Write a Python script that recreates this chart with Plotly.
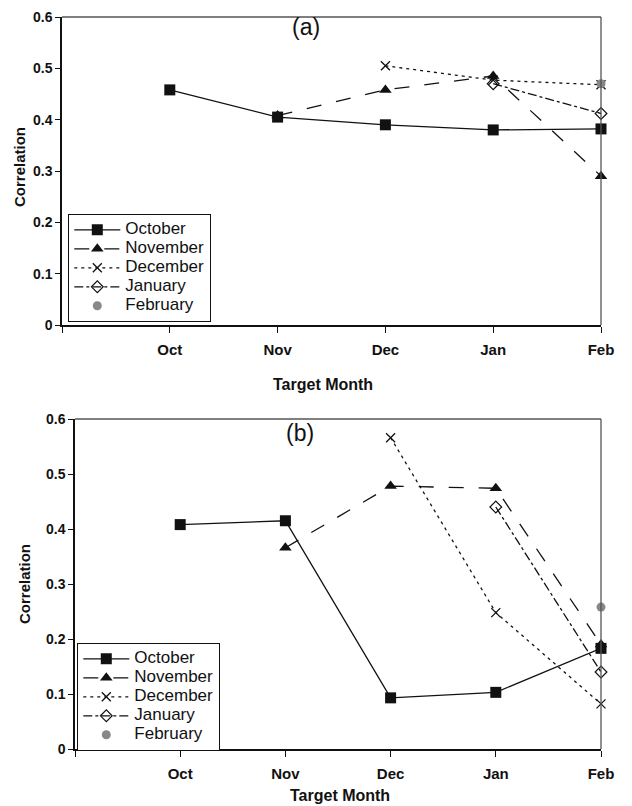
import plotly.graph_objects as go

months = ["Oct", "Nov", "Dec", "Jan", "Feb"]
x_idx = [0, 1, 2, 3, 4]
series_names = ["October", "November", "December", "January", "February"]

# Panel (a) values (None = no forecast)
a_october = [0.458, 0.405, 0.390, 0.380, 0.382]
a_november = [None, 0.408, 0.458, 0.485, 0.290]
a_december = [None, None, 0.505, 0.477, 0.468]
a_january = [None, None, None, 0.470, 0.412]
a_february = [None, None, None, None, 0.470]

# Panel (b) values
b_october = [0.408, 0.415, 0.093, 0.103, 0.183]
b_november = [None, 0.366, 0.478, 0.474, 0.190]
b_december = [None, None, 0.566, 0.248, 0.082]
b_january = [None, None, None, 0.440, 0.140]
b_february = [None, None, None, None, 0.258]

# page body has an 8px margin; figure is sized to fit the window
OFF = 8
W, H = 632 - OFF, 806 - OFF
INK = "#111111"
FONT = "Liberation Sans, Arial"


def fx(px):
    return (px - OFF) / W


def fy(py):
    return 1 - (py - OFF) / H


styles = [
    dict(dash="solid", symbol="square", size=11, color=INK, open=False),
    dict(dash="longdash", symbol="triangle-up", size=11, color=INK, open=False),
    dict(dash="3px,4px", symbol="x-thin", size=9, color=INK, open=False),
    dict(dash="dashdot", symbol="diamond-open", size=9, color=INK, open=True),
    dict(dash="solid", symbol="circle", size=9, color="#888888", open=False),
]

fig = go.Figure()


def add_panel(values, xa, ya, legend):
    for i, (name, vals) in enumerate(zip(series_names, values)):
        st = styles[i]
        mode = "markers" if name == "February" else "lines+markers"
        marker = dict(symbol=st["symbol"], size=st["size"], color=st["color"])
        if st["symbol"] == "x-thin":
            marker["line"] = dict(color=INK, width=1.3)
        elif st["open"]:
            marker["line"] = dict(color=INK, width=1.2)
            marker["color"] = INK
        else:
            marker["line"] = dict(color=st["color"], width=0)
        fig.add_trace(go.Scatter(
            x=x_idx, y=vals,
            name='<span style="font-size:17px">' + name + "</span>",
            mode=mode,
            line=dict(color=INK, width=1.3, dash=st["dash"]),
            marker=marker, xaxis=xa, yaxis=ya, legend=legend,
            cliponaxis=False, connectgaps=False,
        ))


add_panel([a_october, a_november, a_december, a_january, a_february], "x", "y", "legend")
add_panel([b_october, b_november, b_december, b_january, b_february], "x2", "y2", "legend2")

xtickfont = dict(family=FONT, size=15, color=INK, weight="bold")
ytickfont = dict(family=FONT, size=14, color=INK, weight="bold")


def xaxis_cfg(domain, anchor):
    return dict(
        domain=domain, anchor=anchor, range=[-1, 4], automargin=False,
        tickvals=[-1, 0, 1, 2, 3, 4], ticktext=["", *months],
        ticks="outside", ticklen=6, tickwidth=1.3, tickcolor=INK,
        showline=True, linecolor=INK, linewidth=1.5, mirror=False,
        showgrid=False, zeroline=False, tickfont=xtickfont,
        ticklabelstandoff=4, ticklabeloverflow="allow",
    )


def yaxis_cfg(domain, anchor):
    return dict(
        domain=domain, anchor=anchor, range=[0, 0.6], automargin=False,
        tickvals=[0, 0.1, 0.2, 0.3, 0.4, 0.5, 0.6],
        ticktext=["0", "0.1", "0.2", "0.3", "0.4", "0.5", "0.6"],
        ticks="outside", ticklen=5, tickwidth=1.3, tickcolor=INK,
        showline=True, linecolor=INK, linewidth=1.5,
        showgrid=False, zeroline=False, tickfont=ytickfont,
        ticklabeloverflow="allow",
    )


ax_dom = [fx(62), fx(601)]
ay_dom = [fy(325), fy(17)]
bx_dom = [fx(75), fx(601)]
by_dom = [fy(749), fy(419)]

legend_font = dict(family=FONT, size=12, color=INK)

fig.update_layout(
    width=W, height=H,
    margin=dict(l=0, r=0, t=0, b=0, pad=0, autoexpand=False),
    paper_bgcolor="white", plot_bgcolor="white",
    xaxis=xaxis_cfg(ax_dom, "y"),
    yaxis=yaxis_cfg(ay_dom, "x"),
    xaxis2=xaxis_cfg(bx_dom, "y2"),
    yaxis2=yaxis_cfg(by_dom, "x2"),
    legend=dict(x=fx(68), y=fy(214), xanchor="left", yanchor="top",
                bordercolor=INK, borderwidth=1.3, bgcolor="white",
                font=legend_font, tracegroupgap=0, itemwidth=46),
    legend2=dict(x=fx(77), y=fy(643), xanchor="left", yanchor="top",
                 bordercolor=INK, borderwidth=1.3, bgcolor="white",
                 font=legend_font, tracegroupgap=0, itemwidth=46),
    showlegend=True,
)

# Plot-area frame (top and right edges)
for dx, dy in [(ax_dom, ay_dom), (bx_dom, by_dom)]:
    fig.add_shape(type="line", xref="paper", yref="paper",
                  x0=dx[0], x1=dx[1], y0=dy[1], y1=dy[1],
                  line=dict(color="#555555", width=1.3))
    fig.add_shape(type="line", xref="paper", yref="paper",
                  x0=dx[1], x1=dx[1], y0=dy[0], y1=dy[1],
                  line=dict(color="#555555", width=1.3))

title_font = dict(family=FONT, size=23, color=INK)
axis_title_font = dict(family=FONT, size=15, color=INK, weight="bold")
xaxis_title_font = dict(family=FONT, size=16, color=INK, weight="bold")

annotations = [
    dict(text="(a)", x=fx(306), y=fy(27), xref="paper", yref="paper",
         showarrow=False, font=title_font, xanchor="center", yanchor="middle"),
    dict(text="(b)", x=fx(300), y=fy(433), xref="paper", yref="paper",
         showarrow=False, font=title_font, xanchor="center", yanchor="middle"),
    dict(text="Correlation", x=fx(19), y=fy(167), xref="paper", yref="paper",
         showarrow=False, font=axis_title_font, textangle=-90,
         xanchor="center", yanchor="middle"),
    dict(text="Correlation", x=fx(24), y=fy(584), xref="paper", yref="paper",
         showarrow=False, font=axis_title_font, textangle=-90,
         xanchor="center", yanchor="middle"),
    dict(text="Target Month", x=fx(323), y=fy(385), xref="paper", yref="paper",
         showarrow=False, font=xaxis_title_font, xanchor="center", yanchor="middle"),
    dict(text="Target Month", x=fx(340), y=fy(795), xref="paper", yref="paper",
         showarrow=False, font=xaxis_title_font, xanchor="center", yanchor="middle"),
]
fig.update_layout(annotations=annotations)

fig.write_html("out.html")
